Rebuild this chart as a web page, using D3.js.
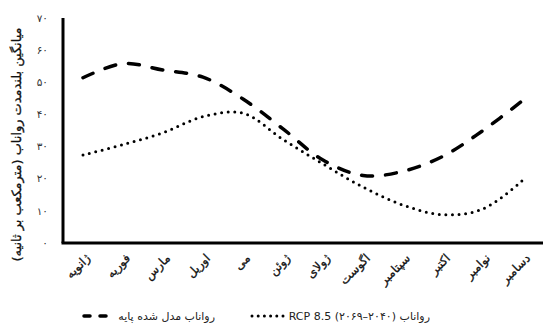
<!DOCTYPE html>
<html>
  <head>
    <meta charset="utf-8">
    <title>Runoff</title>
    <script src="https://cdn.jsdelivr.net/npm/d3@7"></script>
    <style>
      body { margin: 0; background: #fff; }
      svg { display: block; font-family: "DejaVu Sans", sans-serif; }
    </style>
  </head>
  <body>
    <svg id="chart" width="543" height="333"></svg>

    <script>
      // data
      months = ["ژانویه", "فوریه", "مارس", "اوریل", "می", "ژوئن", "ژولای", "اگوست", "سپتامبر", "اکتبر", "نوامبر", "دسامبر"];
      baseline = [51.4, 55.8, 53.8, 51.6, 44.8, 35.5, 25.8, 21.0, 22.3, 27.0, 35.0, 44.4];
      rcp85 = [27.4, 30.6, 34.3, 39.3, 40.4, 32.2, 24.6, 17.4, 11.8, 8.8, 10.6, 19.6];
      yTicks = [0, 10, 20, 30, 40, 50, 60, 70];
      tickLabels = ["۰", "۱۰", "۲۰", "۳۰", "۴۰", "۵۰", "۶۰", "۷۰"];

      chart = d3.select("#chart");
      margin = { top: 18, right: 0, bottom: 90, left: 63 };
      width = 543;
      height = 333;

      x = d3.scalePoint()
        .domain(months)
        .range([margin.left, width - margin.right])
        .padding(0.5);

      y = d3.scaleLinear()
        .domain([0, 70])
        .range([height - margin.bottom, margin.top]);

      // tick labels
      chart.append("g")
        .selectAll("text")
          .data(yTicks)
        .join("text")
          .attr("x", 48)
          .attr("y", d => y(d))
          .attr("dy", "0.35em")
          .attr("text-anchor", "end")
          .attr("font-size", 10.5)
          .attr("fill", "#333")
          .text((d, i) => tickLabels[i]);

      // month labels
      chart.append("g")
        .selectAll("text")
          .data(months)
        .join("text")
          .attr("transform", d => "translate(" + (x(d) + 5) + "," + (y(0) + 13) + ") rotate(-45)")
          .attr("text-anchor", "end")
          .attr("dy", "0.35em")
          .attr("font-size", 12)
          .attr("fill", "#111")
          .attr("stroke", "#111")
          .attr("stroke-width", 0.3)
          .text(d => d);

      // lines
      line = d3.line()
        .x((d, i) => x(months[i]))
        .y(d => y(d))
        .curve(d3.curveCatmullRom);

      chart.append("path")
        .attr("d", line(baseline))
        .attr("fill", "none")
        .attr("stroke", "#000")
        .attr("stroke-width", 3.5)
        .attr("stroke-linecap", "round")
        .attr("stroke-dasharray", "11,13");

      chart.append("path")
        .attr("d", line(rcp85))
        .attr("fill", "none")
        .attr("stroke", "#000")
        .attr("stroke-width", 3)
        .attr("stroke-linecap", "round")
        .attr("stroke-dasharray", "0,6.6");

      // axes
      chart.append("line")
        .attr("x1", margin.left).attr("x2", margin.left)
        .attr("y1", y(70)).attr("y2", y(0))
        .attr("stroke", "#000").attr("stroke-width", 3);
      chart.append("line")
        .attr("x1", margin.left - 1.5).attr("x2", width)
        .attr("y1", y(0)).attr("y2", y(0))
        .attr("stroke", "#000").attr("stroke-width", 3);

      // axis title, sized to span the axis
      title = chart.append("text")
        .attr("transform", "translate(16," + ((y(70) + y(0)) / 2 + 14) + ") rotate(-90)")
        .attr("text-anchor", "middle")
        .attr("dy", "0.35em")
        .attr("font-size", 13)
        .attr("fill", "#111")
        .attr("stroke", "#111")
        .attr("stroke-width", 0.3)
        .attr("direction", "rtl")
        .text("میانگین بلندمدت رواناب (مترمکعب بر ثانیه)");
      len = title.node().getComputedTextLength();
      title.attr("font-size", 13 * 234 / len);

      // legend
      legend = chart.append("g")
        .attr("font-size", 11)
        .attr("fill", "#222");

      legend.append("line")
        .attr("x1", 252).attr("x2", 283)
        .attr("y1", 316).attr("y2", 316)
        .attr("stroke", "#000").attr("stroke-width", 3)
        .attr("stroke-linecap", "round")
        .attr("stroke-dasharray", "0,6.2");
      legend.append("text")
        .attr("x", 430)
        .attr("y", 316)
        .attr("dy", "0.35em")
        .attr("direction", "rtl")
        .attr("text-anchor", "start")
        .text("رواناب  (۲۰۴۰–۲۰۶۹) RCP 8.5");

      legend.append("line")
        .attr("x1", 84).attr("x2", 110)
        .attr("y1", 316).attr("y2", 316)
        .attr("stroke", "#000").attr("stroke-width", 3.5)
        .attr("stroke-linecap", "round")
        .attr("stroke-dasharray", "6,10");
      legend.append("text")
        .attr("x", 215)
        .attr("y", 316)
        .attr("dy", "0.35em")
        .attr("direction", "rtl")
        .attr("text-anchor", "start")
        .text("رواناب مدل شده پایه");
    </script>
  </body>
</html>
